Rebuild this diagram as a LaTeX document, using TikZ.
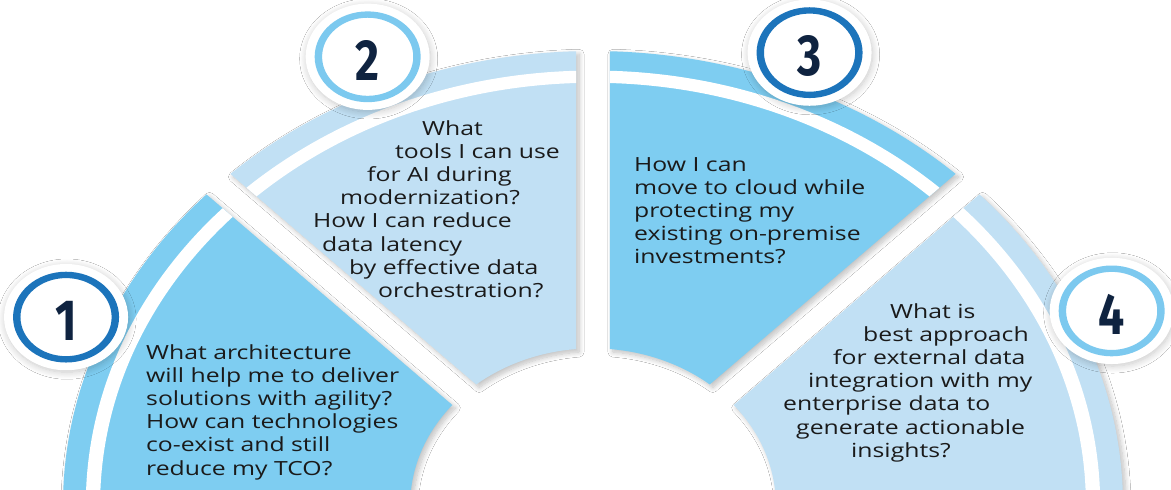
\documentclass[tikz,border=0pt]{standalone}
\usepackage{fontspec}
\usetikzlibrary{shadows.blur}
\newfontfamily\qfont[FakeStretch=1.27]{Open Sans}
\newfontfamily\numfont[FakeStretch=0.8]{Fira Sans}
\definecolor{secdark}{HTML}{7ECDF1}
\definecolor{seclight}{HTML}{C1E0F4}
\definecolor{ringdark}{HTML}{1C74BB}
\definecolor{ringlight}{HTML}{7CC9EF}
\definecolor{numnavy}{HTML}{0F2340}
\definecolor{txt}{HTML}{1A1A1A}
\begin{document}
\begin{tikzpicture}[x=1pt,y=-1pt,
  qline/.style={anchor=base west, inner sep=0pt, font=\qfont\fontsize{19.5}{23}\selectfont, text=txt},
  numtxt/.style={font=\numfont\bfseries\fontsize{58}{58}\selectfont, text=numnavy, inner sep=0pt},
  secshadow/.style={blur shadow={shadow xshift=3pt, shadow yshift=-3pt, shadow blur radius=5pt, shadow blur steps=10, shadow opacity=25}},
  badgeshadow/.style={blur shadow={shadow xshift=1pt, shadow yshift=-2pt, shadow blur radius=7pt, shadow blur steps=12, shadow opacity=22}},
]
\useasboundingbox (0,0) rectangle (1171,490);
\clip (0,0) rectangle (1171,490);
\fill[white] (0,0) rectangle (1171,490);
\begin{scope}[shift={(593,505)}, x=530pt, y=454pt]
  \def\secA{(136.83:1) arc[start angle=136.83,end angle=190,radius=1] -- (190:0.345) arc[start angle=190,end angle=140.32,radius=0.345] -- cycle}
  \def\secB{(91.83:1) arc[start angle=91.83,end angle=133.17,radius=1] -- (129.68:0.345) arc[start angle=129.68,end angle=95.32,radius=0.345] -- cycle}
  \def\secC{(46.83:1) arc[start angle=46.83,end angle=88.17,radius=1] -- (84.68:0.345) arc[start angle=84.68,end angle=50.32,radius=0.345] -- cycle}
  \def\secD{(-10:1) arc[start angle=-10,end angle=43.17,radius=1] -- (39.68:0.345) arc[start angle=39.68,end angle=-10,radius=0.345] -- cycle}
  % sectors
  \fill[secdark, secshadow] \secA;
  \fill[seclight, secshadow] \secB;
  \fill[secdark, secshadow] \secC;
  \fill[seclight, secshadow] \secD;
  % white stripes
  \begin{scope}\clip \secA; \fill[white, even odd rule] (0,0) circle[radius=0.957] (0,0) circle[radius=0.93]; \end{scope}
  \begin{scope}\clip \secB; \fill[white, even odd rule] (0,0) circle[radius=0.957] (0,0) circle[radius=0.93]; \end{scope}
  \begin{scope}\clip \secC; \fill[white, even odd rule] (0,0) circle[radius=0.957] (0,0) circle[radius=0.93]; \end{scope}
  \begin{scope}\clip \secD; \fill[white, even odd rule] (0,0) circle[radius=0.957] (0,0) circle[radius=0.93]; \end{scope}
  % badges
  \coordinate (c1) at (157.4:1.077);
  \coordinate (c2) at (113.3:1.075);
  \coordinate (c3) at (67.7:1.077);
  \coordinate (c4) at (23.6:1.068);
  \foreach \c/\col in {c1/ringdark, c2/ringlight, c3/ringdark, c4/ringlight}{
    \fill[white, badgeshadow] (\c) circle[radius=0.117];
    \fill[\col, even odd rule] (\c) circle[radius=0.1] (\c) circle[radius=0.086];
  }
  \node[numtxt] (n1) at ([yshift=-4pt]c1) {1};
  \node[numtxt] (n2) at ([yshift=-4pt]c2) {2};
  \node[numtxt] (n3) at ([yshift=-3pt]c3) {3};
  \node[numtxt] (n4) at ([yshift=-3pt]c4) {4};
\end{scope}
% sector 1 text
\node[qline] (a1) at (146,359) {What architecture};
\node[qline] (a2) at (146,382.2) {will help me to deliver};
\node[qline] (a3) at (146,405.4) {solutions with agility?};
\node[qline] (a4) at (146,428.6) {How can technologies};
\node[qline] (a5) at (146,451.8) {co-exist and still};
\node[qline] (a6) at (146,475) {reduce my TCO?};
% sector 2 text
\node[qline] (b1) at (422,135) {What};
\node[qline] (b2) at (395,158.2) {tools I can use};
\node[qline] (b3) at (367,181.4) {for AI during};
\node[qline] (b4) at (340,204.6) {modernization?};
\node[qline] (b5) at (313,227.8) {How I can reduce};
\node[qline] (b6) at (322,251) {data latency};
\node[qline] (b7) at (349,274.2) {by effective data};
\node[qline] (b8) at (378,297.4) {orchestration?};
% sector 3 text
\node[qline] (c1t) at (634,171) {How I can};
\node[qline] (c2t) at (634,194.2) {move to cloud while};
\node[qline] (c3t) at (634,217.4) {protecting my};
\node[qline] (c4t) at (634,240.6) {existing on-premise};
\node[qline] (c5t) at (634,263.8) {investments?};
% sector 4 text
\node[qline] (d1) at (890,318) {What is};
\node[qline] (d2) at (863,341.2) {best approach};
\node[qline] (d3) at (833,364.4) {for external data};
\node[qline] (d4) at (808,387.6) {integration with my};
\node[qline] (d5) at (783,410.8) {enterprise data to};
\node[qline] (d6) at (796,434) {generate actionable};
\node[qline] (d7) at (851,457.2) {insights?};
\end{tikzpicture}
\end{document}
